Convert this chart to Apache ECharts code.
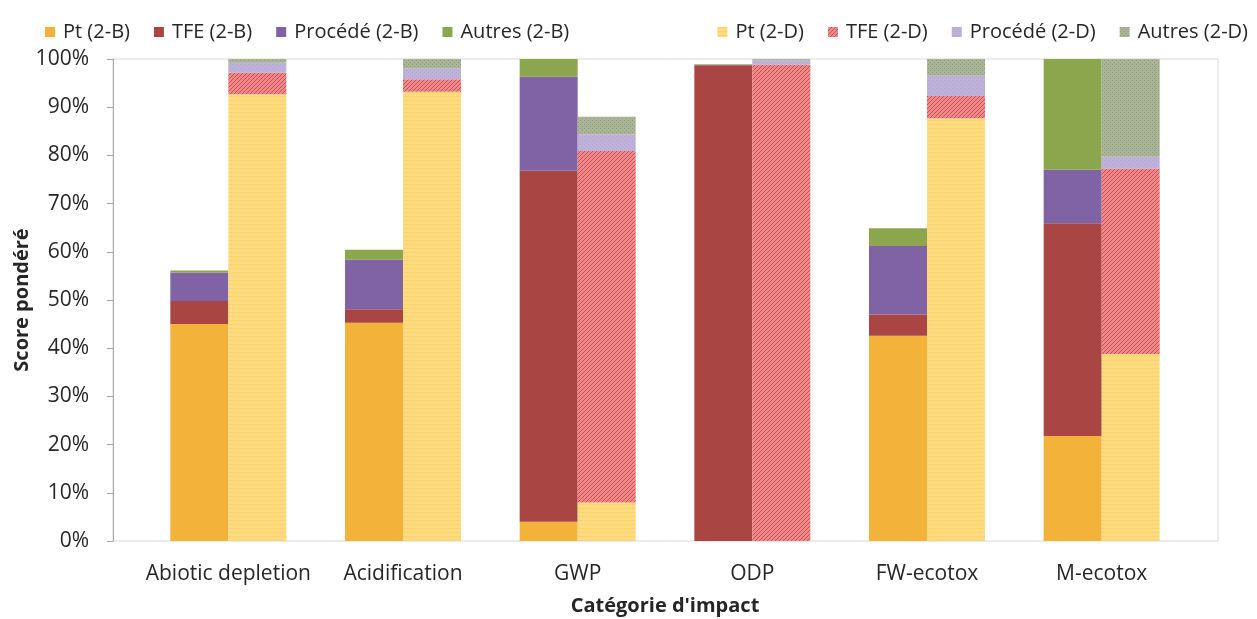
<!DOCTYPE html>
<html>
<head>
<meta charset="utf-8">
<script src="https://cdn.jsdelivr.net/npm/echarts@6/dist/echarts.min.js"></script>
<style>
  html, body { margin: 0; padding: 0; background: #fff; }
  #chart { width: 1257px; height: 619px; }
</style>
</head>
<body>
<div id="chart"></div>
<script>
const categories = ['Abiotic depletion', 'Acidification', 'GWP', 'ODP', 'FW-ecotox', 'M-ecotox'];

// scores (%) for solution 2-B
const ptB      = [45.0, 45.3,  4.0,  0.0, 42.6, 21.8];
const tfeB     = [ 4.8,  2.8, 72.8, 98.7,  4.4, 44.1];
const procedeB = [ 5.9, 10.3, 19.5,  0.1, 14.2, 11.1];
const autresB  = [ 0.4,  2.0,  3.7,  0.1,  3.7, 23.0];

// scores (%) for solution 2-D
const ptD      = [92.7, 93.2,  8.0,  0.0, 87.7, 38.8];
const tfeD     = [ 4.5,  2.6, 72.9, 98.8,  4.6, 38.5];
const procedeD = [ 2.0,  2.3,  3.5,  0.9,  4.2,  2.4];
const autresD  = [ 0.8,  1.9,  3.6,  0.3,  3.5, 20.3];

const yTicks = [0, 10, 20, 30, 40, 50, 60, 70, 80, 90, 100];

const FONT = '"Open Sans", sans-serif';

// small canvas textures to mimic the Excel pattern fills
const makePattern = function (bg, fg, kind) {
    const c = document.createElement('canvas');
    c.width = 4;
    c.height = 4;
    const ctx = c.getContext('2d');
    ctx.fillStyle = bg;
    ctx.fillRect(0, 0, 4, 4);
    ctx.fillStyle = fg;
    if (kind === 'diag') {
        ctx.fillRect(0, 3, 1, 1);
        ctx.fillRect(1, 2, 1, 1);
        ctx.fillRect(2, 1, 1, 1);
        ctx.fillRect(3, 0, 1, 1);
    } else if (kind === 'dots') {
        ctx.fillRect(0, 0, 1, 1);
        ctx.fillRect(2, 2, 1, 1);
    } else if (kind === 'hline') {
        ctx.fillRect(0, 0, 4, 1);
    }
    return { image: c, repeat: 'repeat' };
};

const colPtB = '#F3B23A';
const colTfeB = '#A94542';
const colProcB = '#7F63A4';
const colAutB = '#8BA64D';
const colPtD = makePattern('#FFDA7E', '#FBD270', 'hline');
const colTfeD = makePattern('#F08A8A', '#C84E50', 'diag');
const colProcD = makePattern('#BEB2DA', '#B0A3CE', 'dots');
const colAutD = makePattern('#A9B596', '#8A987A', 'dots');

const makeSerie = function (name, data, stack, color) {
    return {
        name: name,
        type: 'bar',
        stack: stack,
        data: data,
        barWidth: 58,
        barGap: '0%',
        itemStyle: { color: color },
        emphasis: { disabled: true }
    };
};

const series = [
    makeSerie('Pt (2-B)', ptB, 'B', colPtB),
    makeSerie('TFE (2-B)', tfeB, 'B', colTfeB),
    makeSerie('Procédé (2-B)', procedeB, 'B', colProcB),
    makeSerie('Autres (2-B)', autresB, 'B', colAutB),
    makeSerie('Pt (2-D)', ptD, 'D', colPtD),
    makeSerie('TFE (2-D)', tfeD, 'D', colTfeD),
    makeSerie('Procédé (2-D)', procedeD, 'D', colProcD),
    makeSerie('Autres (2-D)', autresD, 'D', colAutD)
];

const legendCommon = {
    top: 17,
    itemWidth: 10,
    itemHeight: 10,
    itemGap: 24,
    icon: 'rect',
    textStyle: { fontFamily: FONT, fontSize: 20, color: '#262626', padding: [0, 0, 0, 3] }
};

const chart = echarts.init(document.getElementById('chart'));

chart.setOption({
    animation: false,
    textStyle: { fontFamily: FONT },
    legend: [
        Object.assign({}, legendCommon, {
            left: 40,
            data: ['Pt (2-B)', 'TFE (2-B)', 'Procédé (2-B)', 'Autres (2-B)']
        }),
        Object.assign({}, legendCommon, {
            right: 4,
            data: ['Pt (2-D)', 'TFE (2-D)', 'Procédé (2-D)', 'Autres (2-D)']
        })
    ],
    grid: [
        // plotting area holding the bars
        { left: 141, right: 68, top: 59, bottom: 78, outerBoundsMode: 'none' },
        // plot-area frame
        { left: 113, right: 39, top: 59, bottom: 78, outerBoundsMode: 'none', show: true, borderColor: '#d9d9d9', borderWidth: 1 }
    ],
    xAxis: [
        {
            type: 'category',
            data: categories,
            gridIndex: 0,
            name: "Catégorie d'impact",
            nameLocation: 'middle',
            nameGap: 55,
            nameMoveOverlap: false,
            nameTextStyle: { fontFamily: FONT, fontSize: 20, fontWeight: 'bold', color: '#262626' },
            axisLine: { show: false },
            axisTick: { show: false },
            axisLabel: { interval: 0, fontFamily: FONT, fontSize: 21, color: '#262626', margin: 23 }
        },
        { type: 'value', gridIndex: 1, show: false, min: 0, max: 1 }
    ],
    yAxis: [
        {
            type: 'value',
            gridIndex: 0,
            min: yTicks[0],
            max: yTicks[yTicks.length - 1],
            interval: 10,
            offset: 28,
            name: 'Score pondéré',
            nameLocation: 'middle',
            nameGap: 81,
            nameMoveOverlap: false,
            nameTextStyle: { fontFamily: FONT, fontSize: 20, fontWeight: 'bold', color: '#262626' },
            axisLine: { show: true, lineStyle: { color: '#a6a6a6', width: 1 } },
            axisTick: { show: true, length: 6, lineStyle: { color: '#a6a6a6' } },
            axisLabel: { fontFamily: FONT, fontSize: 21, color: '#262626', margin: 24, formatter: '{value}%' },
            splitLine: { show: false }
        },
        { type: 'value', gridIndex: 1, show: false, min: 0, max: 1 }
    ],
    series: series
});
</script>
</body>
</html>
